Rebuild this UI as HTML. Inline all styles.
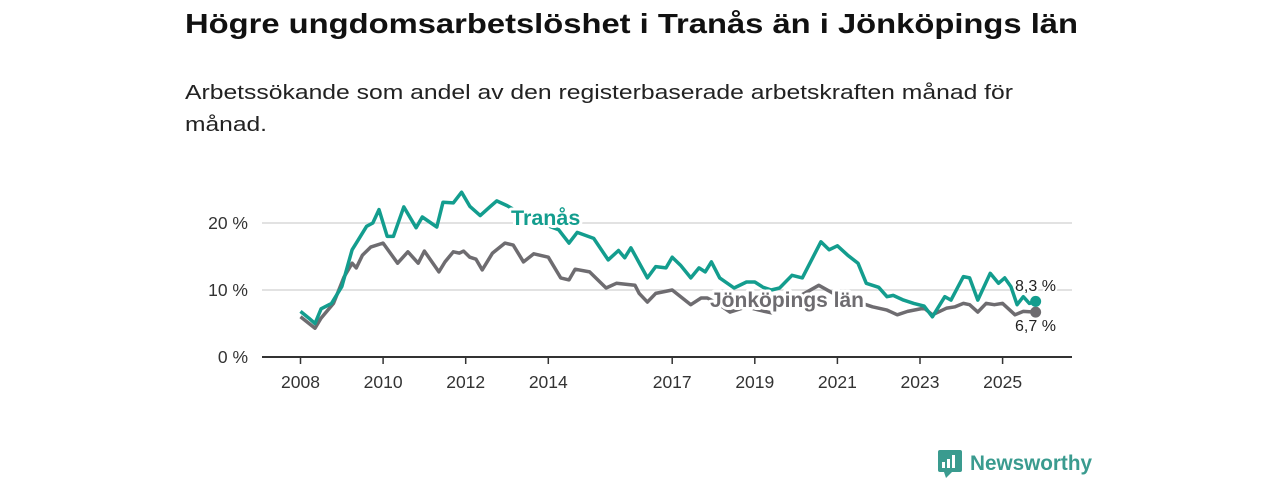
<!DOCTYPE html>
<html><head><meta charset="utf-8"><style>
html,body{margin:0;padding:0;background:#fff;}
svg{display:block;font-family:"Liberation Sans",sans-serif;}
</style></head><body>
<svg id="chart" width="1280" height="480" viewBox="0 0 1280 480">
<text x="185" y="33" font-size="28" font-weight="bold" fill="#111" textLength="893" lengthAdjust="spacingAndGlyphs">Högre ungdomsarbetslöshet i Tranås än i Jönköpings län</text>
<text x="185" y="99" font-size="20" fill="#222" textLength="828" lengthAdjust="spacingAndGlyphs">Arbetssökande som andel av den registerbaserade arbetskraften månad för</text>
<text x="185" y="131" font-size="20" fill="#222" textLength="82" lengthAdjust="spacingAndGlyphs">månad.</text>
<g id="grid"></g><g id="axes"></g><g id="series"></g><g id="labels"></g>
<g>
<rect x="938" y="450" width="24" height="22" rx="2" fill="#3a9b8f"/>
<polygon points="944,472 952,472 946,478" fill="#3a9b8f"/>
<rect x="942" y="462" width="3" height="6" fill="#fff"/><rect x="947" y="459" width="3" height="9" fill="#fff"/><rect x="952" y="455" width="3" height="13" fill="#fff"/>
<text x="970" y="470" font-size="21" fill="#3a9b8f" font-weight="bold" textLength="122" lengthAdjust="spacingAndGlyphs">Newsworthy</text>
</g>
</svg>
<script>
const yTicks = [0, 10, 20];
const yTickLabels = ["0 %", "10 %", "20 %"];
const xTicks = [2008, 2010, 2012, 2014, 2017, 2019, 2021, 2023, 2025];
const tranasT = [2008.0,2008.2,2008.35,2008.5,2008.75,2009.0,2009.25,2009.4,2009.6,2009.75,2009.9,2010.1,2010.25,2010.5,2010.8,2010.95,2011.3,2011.45,2011.7,2011.9,2012.1,2012.35,2012.6,2012.75,2013.0,2013.3,2013.6,2013.9,2014.25,2014.5,2014.7,2015.1,2015.45,2015.7,2015.85,2016.0,2016.1,2016.4,2016.6,2016.85,2017.0,2017.2,2017.45,2017.65,2017.8,2017.95,2018.15,2018.5,2018.8,2019.0,2019.2,2019.4,2019.6,2019.9,2020.15,2020.6,2020.8,2021.0,2021.25,2021.5,2021.7,2022.0,2022.2,2022.35,2022.6,2022.85,2023.1,2023.3,2023.6,2023.75,2024.05,2024.2,2024.4,2024.7,2024.9,2025.05,2025.2,2025.35,2025.5,2025.65,2025.8];
const tranasV = [6.8,5.8,5.0,7.2,8.0,10.5,16.0,17.5,19.5,20.0,22.0,18.0,18.0,22.4,19.3,20.9,19.4,23.1,23.0,24.6,22.5,21.1,22.5,23.3,22.6,21.5,20.5,19.8,19.0,17.0,18.6,17.7,14.5,15.9,14.8,16.3,15.2,11.8,13.5,13.3,14.9,13.7,11.8,13.3,12.7,14.2,11.8,10.3,11.2,11.2,10.4,10.0,10.3,12.2,11.8,17.2,16.0,16.6,15.2,14.0,11.0,10.4,9.0,9.2,8.5,8.0,7.6,6.0,9.0,8.5,12.0,11.8,8.5,12.5,11.0,11.8,10.5,7.8,9.0,8.0,8.3];
const jkpT = [2008.0,2008.35,2008.5,2008.8,2009.05,2009.25,2009.35,2009.5,2009.7,2010.0,2010.35,2010.6,2010.85,2011.0,2011.35,2011.5,2011.7,2011.85,2011.95,2012.1,2012.25,2012.4,2012.65,2012.95,2013.15,2013.4,2013.65,2014.0,2014.3,2014.5,2014.65,2015.0,2015.4,2015.65,2016.1,2016.2,2016.4,2016.6,2017.0,2017.45,2017.7,2017.85,2018.1,2018.4,2018.8,2019.1,2019.4,2019.6,2019.9,2020.2,2020.55,2020.9,2021.2,2021.5,2021.85,2022.2,2022.45,2022.7,2023.1,2023.3,2023.65,2023.85,2024.05,2024.2,2024.4,2024.6,2024.8,2025.0,2025.3,2025.5,2025.8];
const jkpV = [6.0,4.3,5.8,8.0,11.9,14.0,13.3,15.2,16.4,17.0,14.0,15.7,14.0,15.8,12.7,14.2,15.7,15.5,15.8,14.9,14.6,13.0,15.5,17.0,16.7,14.2,15.4,14.9,11.8,11.5,13.1,12.7,10.3,11.0,10.7,9.5,8.2,9.5,10.0,7.8,8.8,8.8,8.0,6.7,7.5,7.0,6.6,8.0,8.5,9.5,10.7,9.5,9.0,8.2,7.5,7.0,6.3,6.8,7.3,6.3,7.3,7.5,8.0,7.8,6.7,8.0,7.8,8.0,6.3,6.8,6.7];

const NS = "http://www.w3.org/2000/svg";
const x = t => 300.5 + (t - 2008) * 41.3;
const y = v => 357 - v * 6.7;
function mk(tag, attrs, parent){const e=document.createElementNS(NS,tag);for(const k in attrs)e.setAttribute(k,attrs[k]);parent.appendChild(e);return e;}
const grid=document.getElementById('grid'), axes=document.getElementById('axes'), series=document.getElementById('series'), labels=document.getElementById('labels');
yTicks.forEach((v,i)=>{
  if(v>0){const g=mk('line',{x1:262,x2:1072,y1:y(v),y2:y(v),stroke:'#d9d9d9','stroke-width':1.5},grid);
  
  }
  const t=mk('text',{x:248,y:y(v)+6,'font-size':17.5,fill:'#333','text-anchor':'end'},axes);
  t.textContent=yTickLabels[i];
  
  
});
const ax=mk('line',{x1:262,x2:1072,y1:357,y2:357,stroke:'#333','stroke-width':2},axes);


xTicks.forEach(yr=>{
  mk('line',{x1:x(yr),x2:x(yr),y1:357,y2:364,stroke:'#333','stroke-width':1.5},axes);
  const t=mk('text',{x:x(yr),y:388,'font-size':17.5,fill:'#333','text-anchor':'middle'},axes);
  t.textContent=yr;
  
  
});
function line(T,V,color,name){
  const d=T.map((t,i)=>(i?'L':'M')+x(t).toFixed(1)+','+y(V[i]).toFixed(1)).join('');
  const p=mk('path',{d:d,fill:'none',stroke:color,'stroke-width':3.5,'stroke-linejoin':'round'},series);
  
  
  const n=T.length-1;
  const c=mk('circle',{cx:x(T[n]),cy:y(V[n]),r:5.5,fill:color},series);
  
  
}
line(jkpT,jkpV,'#6e6c70','line-jonkopings-lan');
line(tranasT,tranasV,'#139d8e','line-tranas');
function lbl(txt,xx,yy,color,size,bold,name){
  const t=mk('text',{x:xx,y:yy,'font-size':size,fill:color,'font-weight':bold?'bold':'normal',stroke:'#fff','stroke-width':bold?6:4,'paint-order':'stroke','stroke-linejoin':'round'},labels);
  t.textContent=txt;
  
  
}
lbl('Tranås',511,225,'#139d8e',21.5,true,'label-tranas');
lbl('Jönköpings län',710,307,'#6e6c70',21,true,'label-jonkopings-lan');
lbl('8,3 %',1015,291,'#222',16,false,'value-tranas');
lbl('6,7 %',1015,331,'#222',16,false,'value-jonkopings');
</script>
</body></html>
